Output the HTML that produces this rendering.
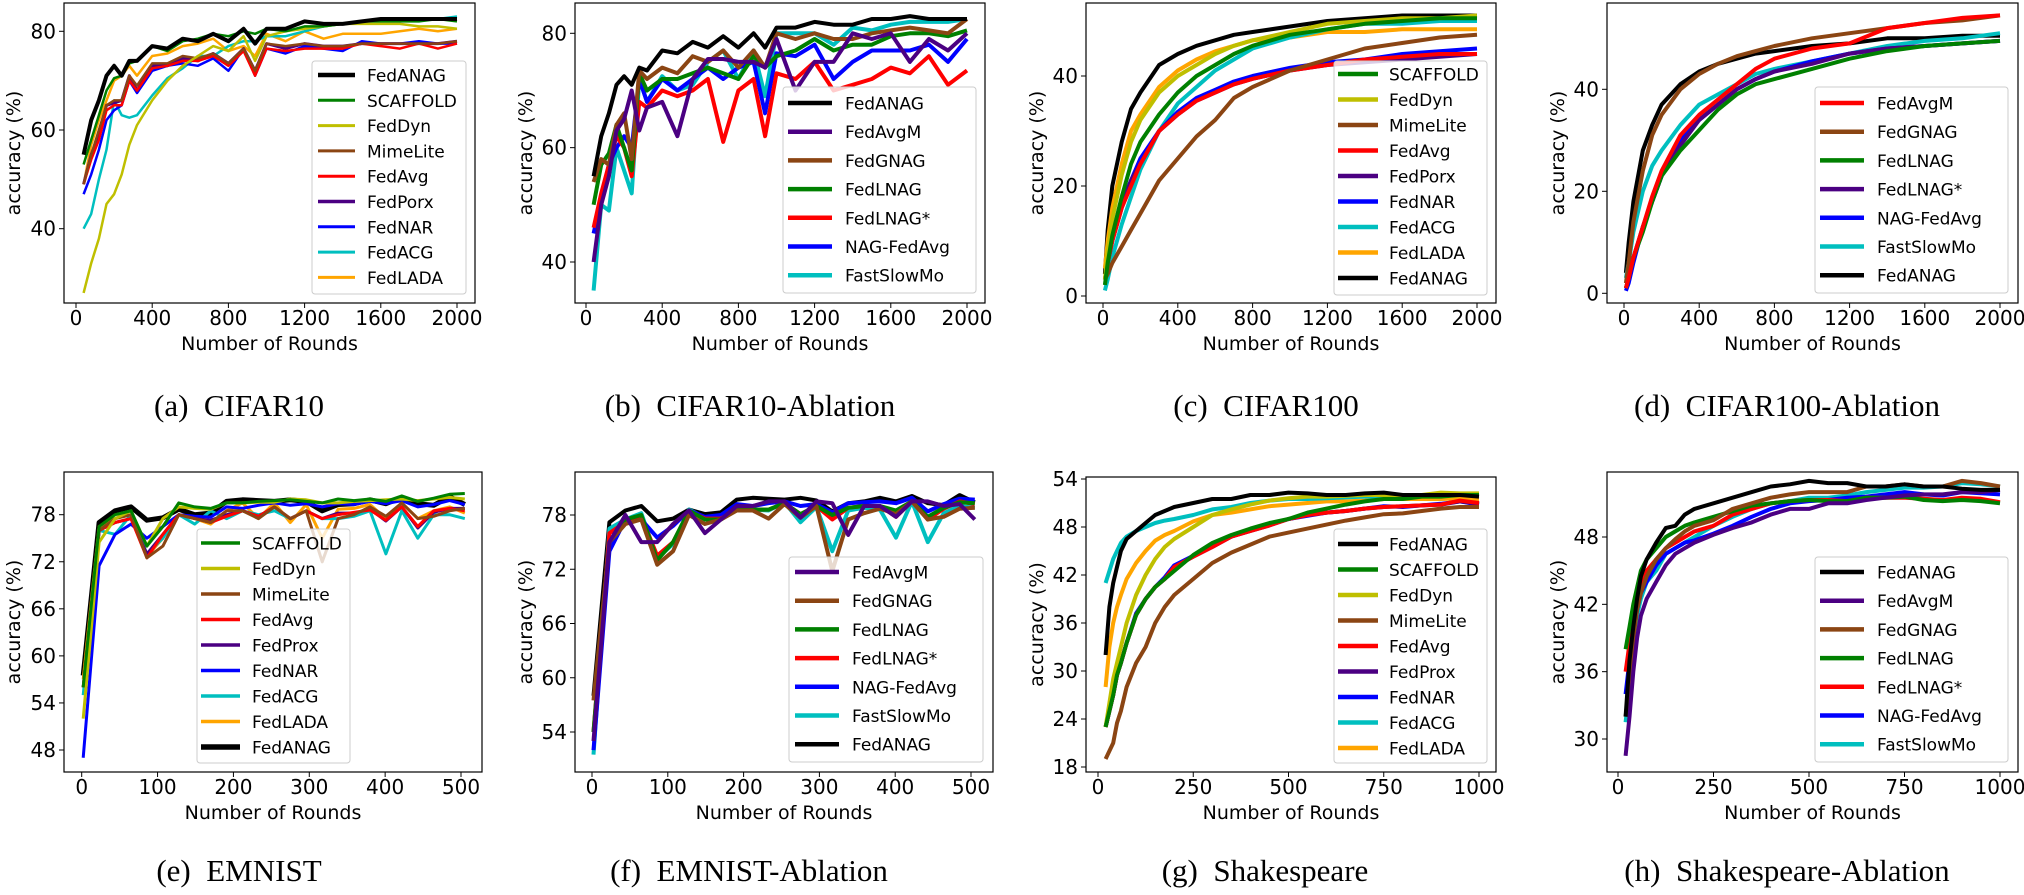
<!DOCTYPE html>
<html><head><meta charset="utf-8"><style>
html,body{margin:0;padding:0;background:#fff;}
svg{display:block;}
</style></head><body>
<svg id="fig" width="2024" height="895" viewBox="0 0 2024 895" xmlns="http://www.w3.org/2000/svg"></svg>
<script>
// ---- data ----
const A_X=[40,80,120,160,200,240,280,320,400,480,560,640,720,800,880,940,1000,1100,1200,1300,1400,1500,1600,1700,1800,1900,2000];
const A_FedANAG=[55,62,66,71,73,71,74,74,77,76.5,78.5,78,79.5,78,80.5,77.5,80.5,80.5,82,81.5,81.5,82,82.5,82.5,82.5,82.5,82.5];
const A_SCAFFOLD=[53,58,63,68,70.5,71,73.5,74,77,76,78,78.5,79.5,79,80,79.5,80.5,80,81,81,81.5,82,82,82,82,82.5,82];
const A_FedDyn=[27,33,38,45,47,51,57,61,66,70,73,75,77,76,79,74,79,80,80.5,81,81.5,81.5,81.5,81.5,81,81,80.5];
const A_MimeLite=[49,55,60,65,66,66,71,69,73.5,73.5,75,74.5,75.5,73.5,76.5,72,77.5,77,77.5,77,77,77.5,77.5,77.5,77.5,77.5,78];
const A_FedAvg=[49,54,58,64,65,65,70,68,72.5,73,74,74,75,73,76,71,76.5,76,76.5,76.5,76.5,77.5,77,76.5,77.5,76.5,77.5];
const A_FedPorx=[49,55,59,65,65.5,66,71,68,73,73,74.5,74,75.5,73.5,76.5,72,77.5,76.5,77.5,77,77,77.5,77.5,77.5,77.5,77.5,78];
const A_FedNAR=[47,51,56,62,64,65,70,67.5,72,73,73.5,73,74.5,72,76.5,71,76.5,75.5,77,76.5,76,78,77.5,77.5,78,77.5,77.5];
const A_FedACG=[40,43,50,56,66,63,62.5,63,67,70.5,72.5,75,75,77,78,78,79,79,80,81,81.5,82,82.5,82,82.5,82.5,83];
const A_FedLADA=[49,57,62,66,70,71,73,71,75,75.5,77,77.5,78.5,76,77,75,79.5,78,80,78.5,79.5,79.5,79.5,80,80.5,80,80.5];

const B_X=A_X;
const B_FedANAG=[55,62,66,71,72.5,71,74,73.5,77,76.5,78.5,77.5,79.5,77.5,80,77.5,81,81,82,81.5,81.5,82.5,82.5,83,82.5,82.5,82.5];
const B_FedAvgM=[40,50,55,63,65,70,63,67,68,62,72,75.5,75.5,75,75,74,79,70,75,75,80,79,80,75,79,77,80];
const B_FedGNAG=[54,58,57,64,66,58,73.5,72,74,73,76,75,77,74,77,74,80,79,80,79,79,80,80.5,81,80.5,80,82.5];
const B_FedLNAG=[50,57,59,64,60,56,73,70,72,72,73,74,73,72,76,74,76,77,79,77,78,78,79.5,80,80,79.5,80.5];
const B_FedLNAGs=[46,52,57,62,60,55,68,67,70,69,70,72,61,70,72,62,73,72,75,70,71,72,74,73,76,71,73.5];
const B_NAGFedAvg=[45,51,57,60,62,60,72,68,72,70,72,74,72,74,75,66,76.5,76,78,72,75,77,77,77,78,75,79];
const B_FastSlowMo=[35,50,49,60,56,52,72,68,72.5,70,71,75,77,72,77,69,80,80,80,78,81,80.5,81.5,82,82,82,82.5];

const C_X=[10,25,50,100,150,200,300,400,500,600,700,800,1000,1200,1400,1600,1800,2000];
const C_SCAFFOLD=[2,6,11,18,24,28,33,37,40,42,44,45.5,47.5,48.5,49.5,50,50.5,50.5];
const C_FedDyn=[3,8,14,22,28,32,37,40,42,44,45.5,46.5,48,49.5,50,50.5,50.5,51];
const C_MimeLite=[3,4,6,9,12,15,21,25,29,32,36,38,41,43,45,46,47,47.5];
const C_FedAvg=[3,6,10,16,20,24,30,33,35.5,37,38.5,39.5,41,42,43,43.5,44,44];
const C_FedPorx=[3,6,10,16,21,24,30,33,35.5,37,38.5,39.5,41,42,42.5,43,43.5,44];
const C_FedNAR=[3,6,11,17,21,25,30,33.5,36,37.5,39,40,41.5,42.5,43,44,44.5,45];
const C_FedACG=[1,3,7,13,18,23,30,35,38,41,43,45,47,48.5,49.5,49.5,50,50];
const C_FedLADA=[5,10,16,24,30,33,38,41,43,44.5,45.5,46.5,47,48,48,48.5,48.5,48.5];
const C_FedANAG=[4,12,20,28,34,37,42,44,45.5,46.5,47.5,48,49,50,50.5,51,51,51];

const D_X=C_X;
const D_FedAvgM=[1,3,7,13,19,24,31,35,38,41,44,46,48,49,52,53,54,54.5];
const D_FedGNAG=[2,6,14,24,31,35,40,43,45,46.5,47.5,48.5,50,51,52,53,53.5,54.5];
const D_FedLNAG=[1,3,7,12,18,23,28,32,36,39,41,42,44,46,47.5,48.5,49,49.5];
const D_FedLNAGs=[1,3,7,13,18,23,29,34,37,40,42,43.5,45,47,48,48.5,49,49.5];
const D_NAGFedAvg=[0.5,2,6,13,18,23,30,34,37,40,42,43.5,45.5,47,48,48.5,49,49.5];
const D_FastSlowMo=[3,6,12,20,25,28,33,37,39,41,43,44,45.5,47,48.5,49.5,50,51];
const D_FedANAG=[4,10,18,28,33,37,41,43.5,45,46,47,47.5,48.5,49,50,50,50.5,50.5];

const E_X=[2,23,44,65,86,107,128,149,170,191,212,233,254,275,296,317,338,359,380,401,422,443,464,485,505];
const E_SCAFFOLD=[56,76.5,78,78.5,74,76.5,79.5,79,78.8,79.5,79.5,79.7,79.8,79.9,79.7,79.5,80,79.8,80,79.7,80.4,79.7,80.1,80.6,80.7];
const E_FedDyn=[52,74.5,77.5,78.5,74,77.5,79,78.8,78.7,79.5,79.5,79.6,79.6,80,79.9,79.5,79.5,79.7,79.8,79.9,80,79.8,80,80.2,80];
const E_MimeLite=[56,76,77.5,78,72.5,74,78,77.5,77,78.5,78.5,77.5,79,77.5,78.5,72,77.5,78,79,77.8,79.5,77.5,77.8,78.5,78.8];
const E_FedAvg=[56,76,77,77.5,72.5,75.5,78,77.5,77,77.8,78.5,77.8,79,77.5,78.5,77.5,78,78.3,78.6,77.3,79,76.5,78.5,78.8,78.5];
const E_FedProx=[56,76,77,77.5,73,75.5,78,77.5,77.3,78,78.5,77.8,79,77.5,78.5,77.5,78.2,78.2,78.7,77.2,79,76.3,78.3,78.8,78.8];
const E_FedNAR=[47,71.5,75.5,76.8,75,76.5,78,77.8,77.7,79,78.8,79.2,79.5,79.2,79.4,79,79.4,79.3,79.7,79.4,79.8,79,79.3,79.8,79.3];
const E_FedACG=[55,76,75.5,78,73,75,78,76.8,78.5,77.5,78.5,78,78.5,77.5,78.5,77.5,77.5,77.8,78.5,73,78.5,75,78,78,77.5];
const E_FedLADA=[57,76.5,77.5,78,72.7,75,78,77.5,76.8,78.5,79.5,77.5,79.5,77,79.3,75,78.7,78.8,79.3,77.5,79.5,77.5,78.5,79,78.2];
const E_FedANAG=[57.5,77,78.5,79,77.3,77.6,78.7,78,78.2,79.7,79.9,79.8,79.7,79.9,79.7,78.5,79.3,79.4,79.9,79.4,80.2,79.4,79.2,80.3,79.3];

const F_X=E_X;
const F_FedAvgM=[53,75,78,75,75,77,78.5,76,77.5,79,79,79.5,79.5,77.7,79.5,79.3,75.8,79,79,77.8,79.5,79.5,79,79.2,77.5];
const F_FedGNAG=[57.5,75,77,77.5,72.5,74,78,77,77.5,78.5,78.5,77.6,79.2,77.7,79,71.8,77.5,78.2,78.7,78.1,79.5,77.5,77.8,78.7,78.8];
const F_FedLNAG=[54,75,77.5,78,73,75,78.5,77.5,77.5,78.6,78.6,78.6,79.3,78.1,79,78,78.8,79,79,78.5,79.5,77.8,78.8,79.4,79.3];
const F_FedLNAGs=[54,76,77.2,77.8,73.5,75,78.4,77.6,77.6,78.6,78.6,78.6,79.3,78.1,79,77.5,78.8,79,79,77.8,79.5,77.5,78.7,79.5,79.2];
const F_NAGFedAvg=[52,74,77.5,77.5,75.5,76.8,78.5,77.8,78,79.2,79,79.3,79.5,79,79.2,78.3,79.3,79.4,79.5,79.3,79.9,78.4,79.2,79.8,79.7];
const F_FastSlowMo=[51.5,76.5,77.5,78.2,73.2,74.8,78.6,77.7,77.6,78.6,78.6,78.5,79.4,77.2,78.9,74,78.5,78.8,78.6,75.5,79.5,75,78.2,79,78.8];
const F_FedANAG=[58,77.2,78.5,79,77.3,77.6,78.6,78.1,78.3,79.7,79.9,79.8,79.7,79.9,79.6,78.4,79.3,79.5,79.9,79.5,80.1,79.3,79.1,80.2,79.4];

const G_X=[20,30,40,50,60,75,100,125,150,175,200,250,300,350,400,450,500,550,600,650,700,750,800,850,900,950,1000];
const G_FedANAG=[32,38,41,43,45,46.5,47.5,48.5,49.5,50,50.5,51,51.5,51.5,52,52,52.3,52.2,52,52,52.2,52.3,52,52,52,52,51.8];
const G_SCAFFOLD=[23,25,27,29.5,31,33.5,37,39,40.5,41.5,42.5,44.5,46,47,47.8,48.5,49,49.8,50.3,50.8,51.2,51.5,51.5,51.8,51.8,52,52];
const G_FedDyn=[23,26,29,31,33,36,39.5,42,44,45.5,46.5,48,49.5,50.2,50.8,51.3,51.6,51.8,51.8,51.9,52,52,52,52,52.3,52.2,52.2];
const G_MimeLite=[19,20,21,23.5,25,28,31,33,36,38,39.5,41.5,43.5,44.8,45.8,46.8,47.3,47.8,48.3,48.8,49.2,49.6,49.7,50,50.3,50.5,50.5];
const G_FedAvg=[23,25,27,29.5,31,33.5,37,39,40.5,41.5,43,44.3,45.5,46.8,47.5,48.2,49,49.5,49.8,50,50.3,50.5,50.6,50.7,50.8,51.3,51];
const G_FedProx=[23,25,27,29.5,31,33.5,37,39,40.5,41.5,43,44.3,45.5,46.8,47.5,48.2,49,49.5,49.8,50,50.3,50.5,50.6,50.7,50.8,51.2,50.9];
const G_FedNAR=[23,25,27,29.5,31,33.5,37.2,39,40.5,41.7,43.2,44.4,45.6,46.8,47.6,48.3,49,49.4,49.8,50,50.3,50.6,50.5,50.7,50.9,51.2,50.8];
const G_FedACG=[41,42.5,44,45,46,46.8,47.5,48,48.5,48.8,49,49.5,50.2,50.5,51,51.3,51.5,51.5,51.6,51.7,51.8,51.8,51.9,51.9,52,52,52];
const G_FedLADA=[28,33,36,38,39.5,41.5,43.5,45,46.3,47,47.5,48.7,49.5,49.8,50.2,50.6,50.8,51,51.2,51.2,51.3,51.5,51.5,51.5,51.5,51.6,51.5];

const H_X=G_X;
const H_FedANAG=[32,37,40,42.5,44.5,46,47.5,48.8,49,50,50.5,51,51.5,52,52.5,52.7,53,52.8,52.8,52.5,52.5,52.7,52.5,52.5,52.3,52.2,52.2];
const H_FedAvgM=[28.5,32,36,39,41,42.5,44,45.5,46.5,47,47.5,48.2,48.8,49.3,50,50.5,50.5,51,51,51.3,51.5,51.7,51.8,51.8,52,52,52.2];
const H_FedGNAG=[32,35,39,41.5,43,44.5,46,47,47.8,48.5,49,49.5,50.5,51,51.5,51.8,52,52,52,52.5,52.5,52.7,52.5,52.5,53,52.8,52.5];
const H_FedLNAG=[38,40,42,43.5,45,46,47,48,48.5,49,49.3,49.8,50.3,50.8,51,51.2,51.3,51.2,51.2,51.5,51.5,51.6,51.3,51.2,51.3,51.2,51];
const H_FedLNAGs=[36,38.5,41,43,44,45,46,47,47.5,48,48.5,49,50,50.5,51,51.2,51.3,51.3,51.2,51.5,51.5,51.5,51.4,51.3,51.5,51.4,51.1];
const H_NAGFedAvg=[34,37,39.5,41.5,43,44,45.5,46.5,47,47.5,47.7,48.3,49,49.8,50.5,51,51.2,51.3,51.5,51.6,51.8,52,51.8,51.7,52,51.9,51.8];
const H_FastSlowMo=[31.5,34.5,38,41,42.5,44,45,46.5,47,47.5,48,49,49.8,50.5,51,51.2,51.5,51.5,51.7,52,52.2,52.4,52.4,52.5,52.8,52.7,52.5];

const TICKS_X_2000=[0,400,800,1200,1600,2000];
const TICKS_X_500=[0,100,200,300,400,500];
const TICKS_X_1000=[0,250,500,750,1000];
const TICKS_Y_A=[40,60,80];
const TICKS_Y_C=[0,20,40];
const TICKS_Y_E=[48,54,60,66,72,78];
const TICKS_Y_F=[54,60,66,72,78];
const TICKS_Y_G=[18,24,30,36,42,48,54];
const TICKS_Y_H=[30,36,42,48];

// ---- styles ----
const COL={black:'#000000',green:'#008000',olive:'#bfbf00',brown:'#8b4513',red:'#ff0000',indigo:'#4b0082',blue:'#0000ff',cyan:'#00bfbf',orange:'#ffa500'};
const NS='http://www.w3.org/2000/svg';
const svg=document.getElementById('fig');
function mk(tag,attrs,parent){const e=document.createElementNS(NS,tag);for(const k in attrs)e.setAttribute(k,attrs[k]);(parent||svg).appendChild(e);return e;}
const FONT='"DejaVu Sans","Liberation Sans",sans-serif';

const panels=[
 {id:'a',cap:'(a)\u2002CIFAR10',box:[64,3,475,303],xp:[76,457],xv:[0,2000],yp:[228.7,31.3],yv:[40,80],xt:TICKS_X_2000,yt:TICKS_Y_A,ylx:14,top:true,
  series:[['FedANAG',A_X,A_FedANAG,COL.black,4],['SCAFFOLD',A_X,A_SCAFFOLD,COL.green,2.5],['FedDyn',A_X,A_FedDyn,COL.olive,2.5],['MimeLite',A_X,A_MimeLite,COL.brown,2.5],['FedAvg',A_X,A_FedAvg,COL.red,2.5],['FedPorx',A_X,A_FedPorx,COL.indigo,3],['FedNAR',A_X,A_FedNAR,COL.blue,2.5],['FedACG',A_X,A_FedACG,COL.cyan,2.5],['FedLADA',A_X,A_FedLADA,COL.orange,2.5]],
  leg:[312,61,466,294,75,25.3,318,355,367]},
 {id:'b',cap:'(b)\u2002CIFAR10-Ablation',box:[575,3,985,303],xp:[586,967],xv:[0,2000],yp:[262,33.3],yv:[40,80],xt:TICKS_X_2000,yt:TICKS_Y_A,ylx:526,top:true,
  series:[['FedANAG',B_X,B_FedANAG,COL.black,4],['FedAvgM',B_X,B_FedAvgM,COL.indigo,4],['FedGNAG',B_X,B_FedGNAG,COL.brown,4],['FedLNAG',B_X,B_FedLNAG,COL.green,4],['FedLNAG*',B_X,B_FedLNAGs,COL.red,4],['NAG-FedAvg',B_X,B_NAGFedAvg,COL.blue,4],['FastSlowMo',B_X,B_FastSlowMo,COL.cyan,4]],
  leg:[783,87,976,293,103,28.7,788,832,845]},
 {id:'c',cap:'(c)\u2002CIFAR100',box:[1086,3,1496,303],xp:[1103,1477],xv:[0,2000],yp:[296,76],yv:[0,40],xt:TICKS_X_2000,yt:TICKS_Y_C,ylx:1037,top:true,
  series:[['SCAFFOLD',C_X,C_SCAFFOLD,COL.green,4],['FedDyn',C_X,C_FedDyn,COL.olive,4],['MimeLite',C_X,C_MimeLite,COL.brown,4],['FedAvg',C_X,C_FedAvg,COL.red,4],['FedPorx',C_X,C_FedPorx,COL.indigo,4],['FedNAR',C_X,C_FedNAR,COL.blue,4],['FedACG',C_X,C_FedACG,COL.cyan,4],['FedLADA',C_X,C_FedLADA,COL.orange,4],['FedANAG',C_X,C_FedANAG,COL.black,4]],
  leg:[1334,61,1487,295,74,25.5,1338,1378,1389]},
 {id:'d',cap:'(d)\u2002CIFAR100-Ablation',box:[1607,3,2018,303],xp:[1624,2000],xv:[0,2000],yp:[293.3,89.3],yv:[0,40],xt:TICKS_X_2000,yt:TICKS_Y_C,ylx:1558,top:true,
  series:[['FedAvgM',D_X,D_FedAvgM,COL.red,4],['FedGNAG',D_X,D_FedGNAG,COL.brown,4],['FedLNAG',D_X,D_FedLNAG,COL.green,4],['FedLNAG*',D_X,D_FedLNAGs,COL.indigo,4],['NAG-FedAvg',D_X,D_NAGFedAvg,COL.blue,4],['FastSlowMo',D_X,D_FastSlowMo,COL.cyan,4],['FedANAG',D_X,D_FedANAG,COL.black,4]],
  leg:[1815,87,2008,293,103,28.7,1820,1864,1877]},
 {id:'e',cap:'(e)\u2002EMNIST',box:[64,472,482,772],xp:[81.7,461],xv:[0,500],yp:[750,514.7],yv:[48,78],xt:TICKS_X_500,yt:TICKS_Y_E,ylx:14,top:false,
  series:[['SCAFFOLD',E_X,E_SCAFFOLD,COL.green,3],['FedDyn',E_X,E_FedDyn,COL.olive,3],['MimeLite',E_X,E_MimeLite,COL.brown,3],['FedAvg',E_X,E_FedAvg,COL.red,3],['FedProx',E_X,E_FedProx,COL.indigo,3],['FedNAR',E_X,E_FedNAR,COL.blue,3],['FedACG',E_X,E_FedACG,COL.cyan,3],['FedLADA',E_X,E_FedLADA,COL.orange,3],['FedANAG',E_X,E_FedANAG,COL.black,5]],
  leg:[197,529,350,763,543,25.5,201,240,252]},
 {id:'f',cap:'(f)\u2002EMNIST-Ablation',box:[575,472,993,772],xp:[592,971],xv:[0,500],yp:[732,515],yv:[54,78],xt:TICKS_X_500,yt:TICKS_Y_F,ylx:526,top:false,
  series:[['FedAvgM',F_X,F_FedAvgM,COL.indigo,4],['FedGNAG',F_X,F_FedGNAG,COL.brown,4],['FedLNAG',F_X,F_FedLNAG,COL.green,4],['FedLNAG*',F_X,F_FedLNAGs,COL.red,4],['NAG-FedAvg',F_X,F_NAGFedAvg,COL.blue,4],['FastSlowMo',F_X,F_FastSlowMo,COL.cyan,4],['FedANAG',F_X,F_FedANAG,COL.black,4]],
  leg:[789,557,983,762,572,28.7,795,839,852]},
 {id:'g',cap:'(g)\u2002Shakespeare',box:[1086,477,1496,772],xp:[1098,1479],xv:[0,1000],yp:[767,479],yv:[18,54],xt:TICKS_X_1000,yt:TICKS_Y_G,ylx:1037,top:false,
  series:[['FedANAG',G_X,G_FedANAG,COL.black,4],['SCAFFOLD',G_X,G_SCAFFOLD,COL.green,4],['FedDyn',G_X,G_FedDyn,COL.olive,4],['MimeLite',G_X,G_MimeLite,COL.brown,4],['FedAvg',G_X,G_FedAvg,COL.red,4],['FedProx',G_X,G_FedProx,COL.indigo,4],['FedNAR',G_X,G_FedNAR,COL.blue,4],['FedACG',G_X,G_FedACG,COL.cyan,4],['FedLADA',G_X,G_FedLADA,COL.orange,4]],
  leg:[1334,529,1487,763,544,25.5,1338,1378,1389]},
 {id:'h',cap:'(h)\u2002Shakespeare-Ablation',box:[1607,472,2018,772],xp:[1618,2000],xv:[0,1000],yp:[739,537],yv:[30,48],xt:TICKS_X_1000,yt:TICKS_Y_H,ylx:1558,top:false,
  series:[['FedANAG',H_X,H_FedANAG,COL.black,4],['FedAvgM',H_X,H_FedAvgM,COL.indigo,4],['FedGNAG',H_X,H_FedGNAG,COL.brown,4],['FedLNAG',H_X,H_FedLNAG,COL.green,4],['FedLNAG*',H_X,H_FedLNAGs,COL.red,4],['NAG-FedAvg',H_X,H_NAGFedAvg,COL.blue,4],['FastSlowMo',H_X,H_FastSlowMo,COL.cyan,4]],
  leg:[1815,557,2008,762,572,28.7,1820,1864,1877]}
];

function slug(s){return s.toLowerCase().replace(/\*/g,'-star').replace(/[^a-z0-9]+/g,'-').replace(/-+$/,'');}

panels.forEach(p=>{
  const [bx0,by0,bx1,by1]=p.box;
  const sx=v=>p.xp[0]+(v-p.xv[0])*(p.xp[1]-p.xp[0])/(p.xv[1]-p.xv[0]);
  const sy=v=>p.yp[0]+(v-p.yv[0])*(p.yp[1]-p.yp[0])/(p.yv[1]-p.yv[0]);
  const g=mk('g',{});
  
  
  const cp=mk('clipPath',{id:'clip-'+p.id},g);
  mk('rect',{x:bx0,y:by0,width:bx1-bx0,height:by1-by0},cp);
  // series
  const sg=mk('g',{'clip-path':'url(#clip-'+p.id+')'},g);
  p.series.slice().reverse().forEach(s=>{
    const pts=s[1].map((x,i)=>sx(x).toFixed(1)+','+sy(s[2][i]).toFixed(1)).join(' ');
    const pl=mk('polyline',{points:pts,fill:'none',stroke:s[3],'stroke-width':s[4],'stroke-linejoin':'round'},sg);
    
    
  });
  // frame
  const fr=mk('rect',{x:bx0,y:by0,width:bx1-bx0,height:by1-by0,fill:'none',stroke:'#000','stroke-width':1.2},g);
  
  
  // x ticks
  const tly=by1+22;
  p.xt.forEach(v=>{
    const x=sx(v);
    mk('line',{x1:x,y1:by1,x2:x,y2:by1+5,stroke:'#000','stroke-width':1},g);
    const t=mk('text',{x:x,y:tly,'text-anchor':'middle','font-family':FONT,'font-size':20,fill:'#000'},g);
    t.textContent=v;
    
    
  });
  p.yt.forEach(v=>{
    const y=sy(v);
    mk('line',{x1:bx0-5,y1:y,x2:bx0,y2:y,stroke:'#000','stroke-width':1},g);
    const t=mk('text',{x:bx0-8,y:y+7,'text-anchor':'end','font-family':FONT,'font-size':20,fill:'#000'},g);
    t.textContent=v;
    
    
  });
  // axis labels
  const xl=mk('text',{x:(bx0+bx1)/2,y:by1+47,'text-anchor':'middle','font-family':FONT,'font-size':19,fill:'#000'},g);
  xl.textContent='Number of Rounds';
  
  
  const ycy=(by0+by1)/2;
  const yl=mk('text',{x:p.ylx,y:ycy,'text-anchor':'middle','dominant-baseline':'central','font-family':FONT,'font-size':19,fill:'#000',transform:'rotate(-90 '+p.ylx+' '+ycy+')'},g);
  yl.textContent='accuracy (%)';
  
  
  // legend
  const L=p.leg;
  const lg=mk('g',{},g);
  
  
  mk('rect',{x:L[0],y:L[1],width:L[2]-L[0],height:L[3]-L[1],rx:3,fill:'#fff','fill-opacity':0.8,stroke:'#cccccc','stroke-width':1},lg);
  p.series.forEach((s,i)=>{
    const y=L[4]+i*L[5];
    const e=mk('g',{},lg);
    
    
    mk('line',{x1:L[6],y1:y,x2:L[7],y2:y,stroke:s[3],'stroke-width':s[4]+0.5},e);
    const t=mk('text',{x:L[8],y:y+6.5,'font-family':FONT,'font-size':17,fill:'#000'},e);
    t.textContent=s[0];
  });
  // caption
  const ccx={a:239,b:750,c:1266,d:1787,e:239,f:749,g:1265,h:1787}[p.id];
  const cap=mk('text',{x:ccx,y:p.top?416:881,'text-anchor':'middle','font-family':'"Liberation Serif",serif','font-size':31,fill:'#000'},g);
  cap.textContent=p.cap;
  
  
});
</script>
</body></html>
